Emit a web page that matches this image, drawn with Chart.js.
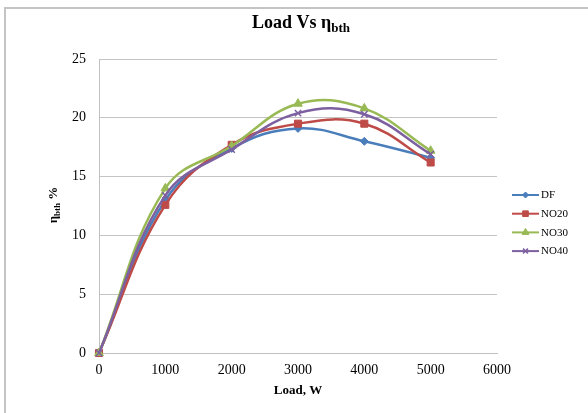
<!DOCTYPE html>
<html>
<head>
<meta charset="utf-8">
<script src="https://cdn.jsdelivr.net/npm/chart.js@4/dist/chart.umd.min.js"></script>
<style>
  html, body { margin: 0; padding: 0; background: #fff; }
  #wrap { position: relative; width: 588px; height: 413px; }
</style>
</head>
<body>
<div id="wrap"><canvas id="c" width="588" height="413"></canvas></div>
<script>
// Load (W) and brake thermal efficiency (%) for each fuel blend
const loads = [0, 1000, 2000, 3000, 4000, 5000];
const seriesNames = ['DF', 'NO20', 'NO30', 'NO40'];
const dfValues   = [0, 13.0, 17.4, 19.1, 18.0, 16.6];
const no20Values = [0, 12.6, 17.7, 19.5, 19.5, 16.2];
const no30Values = [0, 14.0, 17.6, 21.2, 20.8, 17.2];
const no40Values = [0, 13.4, 17.3, 20.4, 20.3, 16.9];
const xTicks = [0, 1000, 2000, 3000, 4000, 5000, 6000];
const yTicks = [0, 5, 10, 15, 20, 25];

const SERIF = '"Liberation Serif", "Times New Roman", serif';

const styles = [
  { color: '#4A7EBB', pointStyle: 'rectRot',  radius: 4,   order: 4 },
  { color: '#BE4B48', pointStyle: 'rect',     radius: 5,   order: 3 },
  { color: '#98B954', pointStyle: 'triangle', radius: 5,   order: 2 },
  { color: '#7D60A0', pointStyle: 'crossRot', radius: 4.5, order: 1 }
];

function toPoints(values) {
  return values.map((v, i) => ({ x: loads[i], y: v }));
}

const datasets = [dfValues, no20Values, no30Values, no40Values].map((vals, i) => ({
  label: seriesNames[i],
  data: toPoints(vals),
  borderColor: styles[i].color,
  backgroundColor: styles[i].color,
  pointBackgroundColor: styles[i].color,
  pointBorderColor: styles[i].color,
  pointStyle: styles[i].pointStyle,
  pointRadius: styles[i].radius,
  pointHoverRadius: styles[i].radius,
  pointBorderWidth: styles[i].pointStyle === 'crossRot' ? 1.5 : 1,
  borderWidth: 2.5,
  tension: 0.4,
  fill: false,
  clip: false,
  order: styles[i].order
}));

// Outer frame, title with subscript, axis titles and the side legend
const decorations = {
  id: 'decorations',
  beforeDraw(chart) {
    const ctx = chart.ctx;
    ctx.save();
    ctx.strokeStyle = '#C4C4C4';
    ctx.lineWidth = 2;
    ctx.beginPath();
    ctx.moveTo(5, 413);
    ctx.lineTo(5, 8);
    ctx.lineTo(588, 8);
    ctx.stroke();
    ctx.restore();
  },
  afterDraw(chart) {
    const ctx = chart.ctx;
    ctx.save();
    ctx.fillStyle = '#000';
    ctx.textBaseline = 'alphabetic';

    // Title: "Load Vs η" with subscript "bth"
    const main = 'Load Vs \u03B7';
    const sub = 'bth';
    ctx.font = 'bold 18px ' + SERIF;
    const wMain = ctx.measureText(main).width;
    ctx.font = 'bold 13px ' + SERIF;
    const wSub = ctx.measureText(sub).width;
    const x0 = 301 - (wMain + wSub) / 2;
    ctx.font = 'bold 18px ' + SERIF;
    ctx.textAlign = 'left';
    ctx.fillText(main, x0, 28);
    ctx.font = 'bold 13px ' + SERIF;
    ctx.fillText(sub, x0 + wMain, 32);

    // X axis title
    ctx.font = 'bold 13px ' + SERIF;
    ctx.textAlign = 'center';
    ctx.textBaseline = 'middle';
    ctx.fillText('Load, W', 298, 391);
    ctx.textAlign = 'left';
    ctx.textBaseline = 'alphabetic';

    // Y axis title, rotated
    ctx.save();
    ctx.translate(57, 205);
    ctx.rotate(-Math.PI / 2);
    const yMain = '\u03B7';
    const ySub = 'bth';
    const yEnd = ' %';
    ctx.font = 'bold 13px ' + SERIF;
    const a = ctx.measureText(yMain).width;
    const c = ctx.measureText(yEnd).width;
    ctx.font = 'bold 9px ' + SERIF;
    const b = ctx.measureText(ySub).width;
    const sx = -(a + b + c) / 2;
    ctx.font = 'bold 13px ' + SERIF;
    ctx.fillText(yMain, sx, 0);
    ctx.font = 'bold 9px ' + SERIF;
    ctx.fillText(ySub, sx + a, 3);
    ctx.font = 'bold 13px ' + SERIF;
    ctx.fillText(yEnd, sx + a + b, 0);
    ctx.restore();

    // Legend: line sample with marker, then the series name
    const lx0 = 512, lx1 = 539, ty0 = 195, step = 18.7;
    chart.data.datasets.forEach((ds, i) => {
      const y = ty0 + i * step;
      ctx.strokeStyle = ds.borderColor;
      ctx.lineWidth = 2;
      ctx.beginPath();
      ctx.moveTo(lx0, y);
      ctx.lineTo(lx1, y);
      ctx.stroke();
      ctx.fillStyle = ds.pointBackgroundColor;
      ctx.strokeStyle = ds.pointBorderColor;
      ctx.lineWidth = ds.pointBorderWidth;
      Chart.helpers.drawPoint(ctx, {
        pointStyle: ds.pointStyle,
        radius: Math.max(3, ds.pointRadius - 1),
        rotation: 0,
        borderWidth: ds.pointBorderWidth
      }, (lx0 + lx1) / 2, y);
      ctx.fillStyle = '#000';
      ctx.font = '11px ' + SERIF;
      ctx.textAlign = 'left';
      ctx.textBaseline = 'middle';
      ctx.fillText(ds.label, lx1 + 2, y + 0.5);
    });
    ctx.restore();
  }
};

new Chart(document.getElementById('c'), {
  type: 'line',
  data: { datasets },
  plugins: [decorations],
  options: {
    responsive: false,
    animation: false,
    events: [],
    layout: { padding: { left: 0, top: 59, right: 91, bottom: 0 } },
    plugins: {
      legend: { display: false },
      title: { display: false },
      tooltip: { enabled: false }
    },
    scales: {
      x: {
        type: 'linear',
        min: 0,
        max: 6000,
        afterFit(scale) { scale.height = 60; },
        afterBuildTicks(scale) { scale.ticks = xTicks.map(v => ({ value: v })); },
        grid: { display: false, drawTicks: false },
        border: { display: true, color: '#C0C0C0', width: 1 },
        ticks: {
          padding: 9,
          maxRotation: 0,
          color: '#000',
          font: { family: SERIF, size: 14 },
          callback: v => String(v)
        }
      },
      y: {
        type: 'linear',
        min: 0,
        max: 25,
        afterFit(scale) { scale.width = 99; },
        afterBuildTicks(scale) { scale.ticks = yTicks.map(v => ({ value: v })); },
        grid: { color: '#C4C4C4', lineWidth: 1, drawTicks: false },
        border: { display: true, color: '#C0C0C0', width: 1 },
        ticks: {
          padding: 13,
          color: '#000',
          font: { family: SERIF, size: 14 },
          callback: v => String(v)
        }
      }
    }
  }
});
</script>
</body>
</html>
